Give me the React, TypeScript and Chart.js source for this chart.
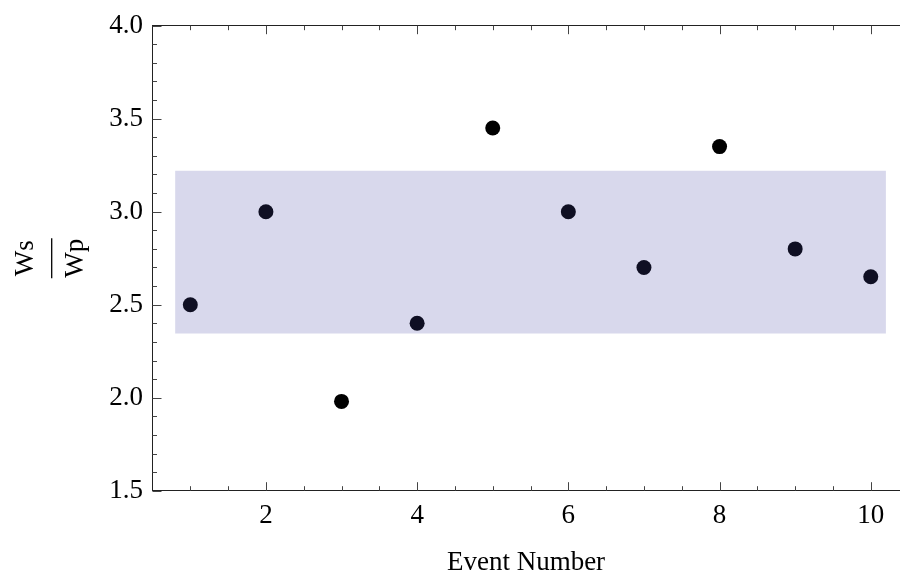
import React, { useEffect, useRef } from "react";
import { Chart, registerables } from "chart.js";

Chart.register(...registerables);

// ---- data ----
const events = [1, 2, 3, 4, 5, 6, 7, 8, 9, 10];
const ratios = [2.5, 3.0, 1.98, 2.4, 3.45, 3.0, 2.7, 3.35, 2.8, 2.65];
const bandLow = 2.345;
const bandHigh = 3.22;
const bandStart = 0.8;
const bandEnd = 10.2;
const xMajorTicks = [2, 4, 6, 8, 10];
const xMinorTicks = [1, 1.5, 2.5, 3, 3.5, 4.5, 5, 5.5, 6.5, 7, 7.5, 8.5, 9, 9.5, 10.5];
const yMajorTicks = [1.5, 2.0, 2.5, 3.0, 3.5, 4.0];
const xTitle = "Event Number";
const yNumerator = "Ws";
const yDenominator = "Wp";

const FONT = "'Liberation Serif', 'Times New Roman', serif";

const bandPlugin = {
  id: "band",
  afterDatasetsDraw(chart: any) {
    const { ctx, scales } = chart;
    const x = scales.x;
    const y = scales.y;
    const x0 = x.getPixelForValue(bandStart);
    const x1 = x.getPixelForValue(bandEnd);
    const y0 = y.getPixelForValue(bandHigh);
    const y1 = y.getPixelForValue(bandLow);
    ctx.save();
    ctx.fillStyle = "rgba(72,72,165,0.21)";
    ctx.fillRect(x0, y0, x1 - x0, y1 - y0);
    ctx.restore();
  },
};

const framePlugin = {
  id: "frameTicks",
  afterDraw(chart: any) {
    const { ctx, chartArea, scales } = chart;
    const { left, right, top, bottom } = chartArea;
    const x = scales.x;
    const y = scales.y;
    ctx.save();
    ctx.strokeStyle = "#444";
    ctx.lineWidth = 1;
    ctx.beginPath();
    const xs = [...xMajorTicks.map((v) => [v, 8.5]), ...xMinorTicks.map((v) => [v, 4.5])];
    for (const [v, len] of xs) {
      const px = Math.round(x.getPixelForValue(v)) + 0.5;
      if (px < left || px > right) continue;
      ctx.moveTo(px, bottom);
      ctx.lineTo(px, bottom - len);
      ctx.moveTo(px, top);
      ctx.lineTo(px, top + len);
    }
    for (let i = 15; i <= 40; i++) {
      const v = i / 10;
      const isMajor = i % 5 === 0;
      const len = isMajor ? 9 : 4.5;
      const py = Math.round(y.getPixelForValue(v)) + 0.5;
      if (py < top - 1 || py > bottom + 1) continue;
      ctx.moveTo(left, py);
      ctx.lineTo(left + len, py);
    }
    ctx.stroke();

    // y-axis fraction title
    const cx = 51.7;
    const cy = (top + bottom) / 2;
    ctx.translate(cx, cy);
    ctx.rotate(-Math.PI / 2);
    ctx.fillStyle = "#000";
    ctx.font = `27px ${FONT}`;
    ctx.textAlign = "center";
    ctx.textBaseline = "alphabetic";
    ctx.fillText(yNumerator, 0, -18.4);
    ctx.fillText(yDenominator, 0, 31.6);
    ctx.strokeStyle = "#000";
    ctx.lineWidth = 1.3;
    ctx.beginPath();
    ctx.moveTo(-20, 0);
    ctx.lineTo(20, 0);
    ctx.stroke();
    ctx.restore();
  },
};

export default function App() {
  const canvasRef = useRef<HTMLCanvasElement | null>(null);

  useEffect(() => {
    document.body.style.margin = "0";
    const canvas = canvasRef.current;
    if (!canvas) return;
    Chart.defaults.font.family = FONT;
    Chart.defaults.font.size = 27;
    Chart.defaults.color = "#000";

    const chart = new Chart(canvas, {
      type: "scatter",
      data: {
        datasets: [
          {
            data: events.map((e, i) => ({ x: e, y: ratios[i] })),
            backgroundColor: "#000",
            borderWidth: 0,
            pointRadius: 7.5,
            pointHoverRadius: 7.5,
          },
        ],
      },
      options: {
        animation: false,
        responsive: true,
        maintainAspectRatio: false,
        layout: { padding: { left: 0, right: 0, top: 18.2, bottom: 0 } },
        plugins: { legend: { display: false }, tooltip: { enabled: false } },
        scales: {
          x: {
            type: "linear",
            position: "bottom",
            min: 0.5,
            max: 10.38,
            afterBuildTicks: (scale: any) => {
              scale.ticks = xMajorTicks.map((value) => ({ value }));
            },
            afterFit: (scale: any) => {
              scale.height = 90.3;
            },
            ticks: { padding: 9, maxRotation: 0, autoSkip: false, font: { size: 27, family: FONT } },
            grid: { drawOnChartArea: false, drawTicks: false },
            border: { display: true, color: "#222", width: 1 },
            title: {
              display: true,
              text: xTitle,
              font: { size: 27, family: FONT },
              padding: { top: 0, bottom: 2 },
            },
          },
          x2: {
            type: "linear",
            position: "top",
            min: 0.5,
            max: 10.38,
            afterFit: (scale: any) => {
              scale.height = 0;
            },
            ticks: { display: false },
            grid: { drawOnChartArea: false, drawTicks: false },
            border: { display: true, color: "#222", width: 1 },
          },
          y: {
            type: "linear",
            position: "left",
            min: 1.5,
            max: 4.0,
            afterBuildTicks: (scale: any) => {
              scale.ticks = yMajorTicks.map((value) => ({ value }));
            },
            afterFit: (scale: any) => {
              scale.width = 152.5;
            },
            ticks: {
              padding: 9.5,
              font: { size: 27, family: FONT },
              callback: (v: any) => Number(v).toFixed(1),
            },
            grid: { drawOnChartArea: false, drawTicks: false },
            border: { display: true, color: "#222", width: 1 },
          },
        },
      },
      plugins: [bandPlugin, framePlugin],
    });
    return () => chart.destroy();
  }, []);

  return (
    <div style={{ position: "relative", width: "907px", height: "581px" }}>
      <canvas ref={canvasRef} />
    </div>
  );
}
